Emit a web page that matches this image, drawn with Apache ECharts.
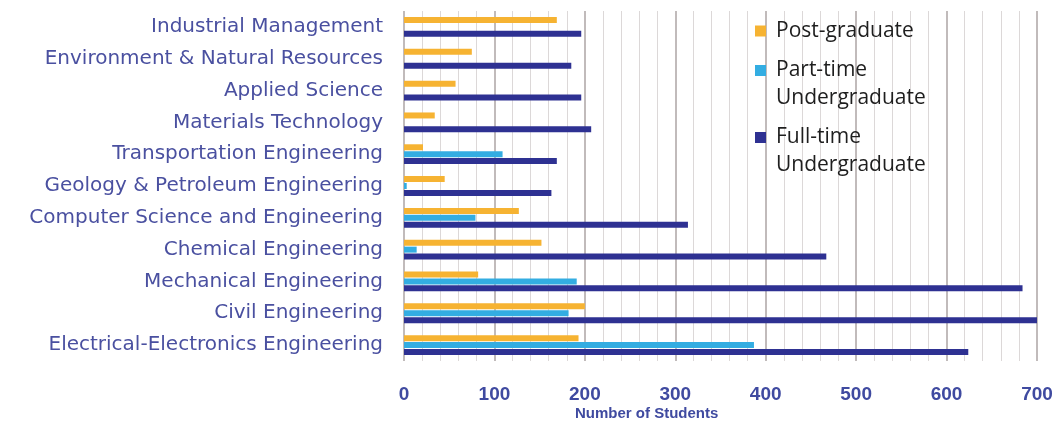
<!DOCTYPE html>
<html><head><meta charset="utf-8">
<script src="https://cdn.jsdelivr.net/npm/echarts@6/dist/echarts.min.js"></script>
<style>html,body{margin:0;padding:0;background:#fff}#c{width:1056px;height:429px}</style>
</head><body><div id="c"></div>
<script>
const categories = ['Electrical-Electronics Engineering','Civil Engineering','Mechanical Engineering','Chemical Engineering','Computer Science and Engineering','Geology & Petroleum Engineering','Transportation Engineering','Materials Technology','Applied Science','Environment & Natural Resources','Industrial Management'];
const seriesNames = ['Post-graduate', 'Part-time\nUndergraduate', 'Full-time\nUndergraduate'];
const postGraduate = [193, 200, 82, 152, 127, 45, 21, 34, 57, 75, 169];
const partTime = [387, 182, 191, 14, 79, 3, 109, 0, 0, 0, 0];
const fullTime = [624, 700, 684, 467, 314, 163, 169, 207, 196, 185, 196];
const xTicks = [0, 100, 200, 300, 400, 500, 600, 700];
const axisTitle = 'Number of Students';

const chart = echarts.init(document.getElementById('c'));
const mk = (name, data, color) => ({name, type:'bar', data, barWidth:6, barGap:'15%', itemStyle:{color}, emphasis:{disabled:true}});
const legendText = {fontFamily:'Open Sans', fontSize:21, color:'#1e1e1e', lineHeight:28, padding:[0,0,0,5]};
const tallIcon = 'path://M0,0 M0,9 L11,9 L11,20 L0,20 Z M0,56';
chart.setOption({
  animation:false,
  grid:{left:404, right:19, top:11, bottom:68, containLabel:false},
  title:{text:axisTitle, left:575, top:406, padding:0,
    textStyle:{fontFamily:'Liberation Sans', fontWeight:'bold', fontSize:15, color:'#3f4aa0'}},
  legend:[
    {orient:'vertical', left:755, top:17, padding:0, itemWidth:11, itemHeight:11, icon:'rect',
     textStyle:legendText, data:[seriesNames[0]]},
    {orient:'vertical', left:755, top:56, padding:0, itemWidth:11, itemHeight:56, icon:tallIcon,
     textStyle:legendText, data:[seriesNames[1]]},
    {orient:'vertical', left:755, top:123, padding:0, itemWidth:11, itemHeight:56, icon:tallIcon,
     textStyle:legendText, data:[seriesNames[2]]}
  ],
  xAxis:{
    type:'value', min:xTicks[0], max:xTicks[xTicks.length-1], interval:100,
    axisLine:{show:false}, axisTick:{show:false},
    axisLabel:{fontFamily:'Liberation Sans', fontWeight:'bold', fontSize:19, color:'#3f4aa0', margin:24},
    splitLine:{show:true, lineStyle:{color:'#aca5a5', width:1.5}},
    minorTick:{show:false, splitNumber:5},
    minorSplitLine:{show:true, lineStyle:{color:'#dcd8d8', width:1}}
  },
  yAxis:{
    type:'category', data:categories,
    axisLine:{show:false}, axisTick:{show:false},
    axisLabel:{fontFamily:'DejaVu Sans', fontSize:20, color:'#4a50a0', margin:21}
  },
  series:[
    mk(seriesNames[0], postGraduate, '#f6b332'),
    mk(seriesNames[1], partTime, '#33ade2'),
    mk(seriesNames[2], fullTime, '#2e3192')
  ]
});
</script></body></html>
